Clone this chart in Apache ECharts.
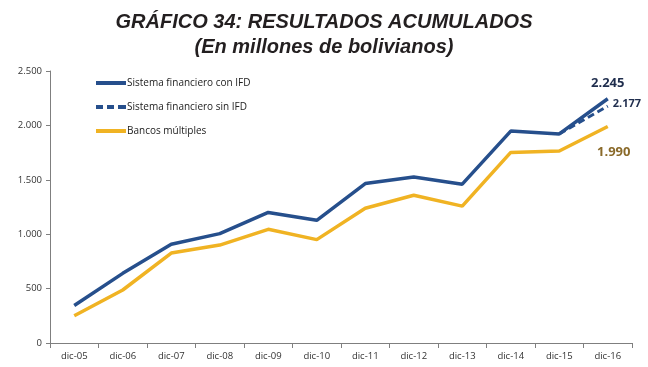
<!DOCTYPE html>
<html>
<head>
<meta charset="utf-8">
<script src="https://cdn.jsdelivr.net/npm/echarts@6/dist/echarts.min.js"></script>
<style>
  html, body { margin: 0; padding: 0; background: #fff; }
  #chart { width: 648px; height: 367px; }
</style>
</head>
<body>
<div id="chart"></div>
<script>
// Cumulative results, millions of bolivianos
const categories = ['dic-05','dic-06','dic-07','dic-08','dic-09','dic-10','dic-11','dic-12','dic-13','dic-14','dic-15','dic-16'];
const sistemaConIFD = [345, 640, 908, 1005, 1200, 1128, 1465, 1525, 1460, 1948, 1922, 2245];
const sistemaSinIFD = [null, null, null, null, null, null, null, null, null, null, 1922, 2177];
const bancosMultiples = [250, 487, 827, 900, 1045, 950, 1238, 1358, 1258, 1752, 1765, 1990];
const yTicks = [0, 500, 1000, 1500, 2000, 2500];

const BLUE = '#264f8c';
const GOLD = '#f0b323';

// thousands separator with a dot
function fmt(v) {
  return String(Math.round(v)).replace(/\B(?=(\d{3})+(?!\d))/g, '.');
}

function endLabel(extra) {
  return Object.assign({
    show: true,
    fontFamily: 'Open Sans',
    fontWeight: 'bold',
    formatter: p => fmt(Array.isArray(p.value) ? p.value[1] : p.value)
  }, extra);
}

const chart = echarts.init(document.getElementById('chart'), null, { renderer: 'canvas' });
chart.setOption({
  animation: false,
  backgroundColor: '#fff',
  title: {
    text: 'GRÁFICO 34: RESULTADOS ACUMULADOS\n(En millones de bolivianos)',
    left: 'center',
    top: 5,
    textStyle: {
      fontFamily: 'Liberation Sans',
      fontStyle: 'italic',
      fontWeight: 'bold',
      fontSize: 20,
      lineHeight: 25,
      color: '#231f20'
    }
  },
  legend: {
    orient: 'vertical',
    left: 91,
    top: 71,
    itemWidth: 30,
    itemHeight: 4,
    itemGap: 10,
    textStyle: { fontFamily: 'Open Sans', fontSize: 10, color: '#222', padding: [0, 0, 0, -4], lineHeight: 14 },
    data: [
      { name: 'Sistema financiero con IFD', icon: 'path://M0,0 L30,0 L30,4 L0,4 Z', itemStyle: { color: BLUE, opacity: 1 } },
      { name: 'Sistema financiero sin IFD', icon: 'path://M0,0 L7,0 L7,4 L0,4 Z M11,0 L18,0 L18,4 L11,4 Z M22,0 L30,0 L30,4 L22,4 Z', itemStyle: { color: BLUE, opacity: 1 } },
      { name: 'Bancos múltiples', icon: 'path://M0,0 L30,0 L30,4 L0,4 Z', itemStyle: { color: GOLD, opacity: 1 } }
    ]
  },
  grid: { left: 50, right: 16, top: 71, bottom: 24 },
  xAxis: {
    type: 'category',
    data: categories,
    boundaryGap: true,
    axisLine: { lineStyle: { color: '#7f7f7f', width: 1 } },
    axisTick: { show: true, length: 5, lineStyle: { color: '#7f7f7f' } },
    axisLabel: { fontFamily: 'Open Sans', fontSize: 9.5, color: '#333', margin: 8 }
  },
  yAxis: {
    type: 'value',
    min: yTicks[0],
    max: yTicks[yTicks.length - 1],
    interval: 500,
    axisLine: { show: true, lineStyle: { color: '#7f7f7f', width: 1 } },
    axisTick: { show: true, length: 4, lineStyle: { color: '#7f7f7f' } },
    splitLine: { show: false },
    axisLabel: { fontFamily: 'Open Sans', fontSize: 9.5, color: '#333', margin: 8, formatter: v => fmt(v) }
  },
  series: [
    {
      name: 'Sistema financiero sin IFD',
      type: 'line',
      data: sistemaSinIFD,
      symbol: 'none',
      z: 1,
      lineStyle: { color: BLUE, width: 3, type: [7, 4] },
      itemStyle: { color: BLUE },
      endLabel: endLabel({ color: '#1f2d4d', fontSize: 11, distance: 5, offset: [0, -2] })
    },
    {
      name: 'Sistema financiero con IFD',
      type: 'line',
      data: sistemaConIFD,
      symbol: 'none',
      z: 3,
      lineStyle: { color: BLUE, width: 3.5 },
      itemStyle: { color: BLUE },
      endLabel: endLabel({ color: '#1f2d4d', fontSize: 13, distance: 0, align: 'center', offset: [0, -15] })
    },
    {
      name: 'Bancos múltiples',
      type: 'line',
      data: bancosMultiples,
      symbol: 'none',
      z: 2,
      lineStyle: { color: GOLD, width: 3.5 },
      itemStyle: { color: GOLD },
      endLabel: endLabel({ color: '#8a6a2a', fontSize: 13, distance: 0, align: 'center', offset: [6, 26] })
    }
  ]
});
</script>
</body>
</html>
